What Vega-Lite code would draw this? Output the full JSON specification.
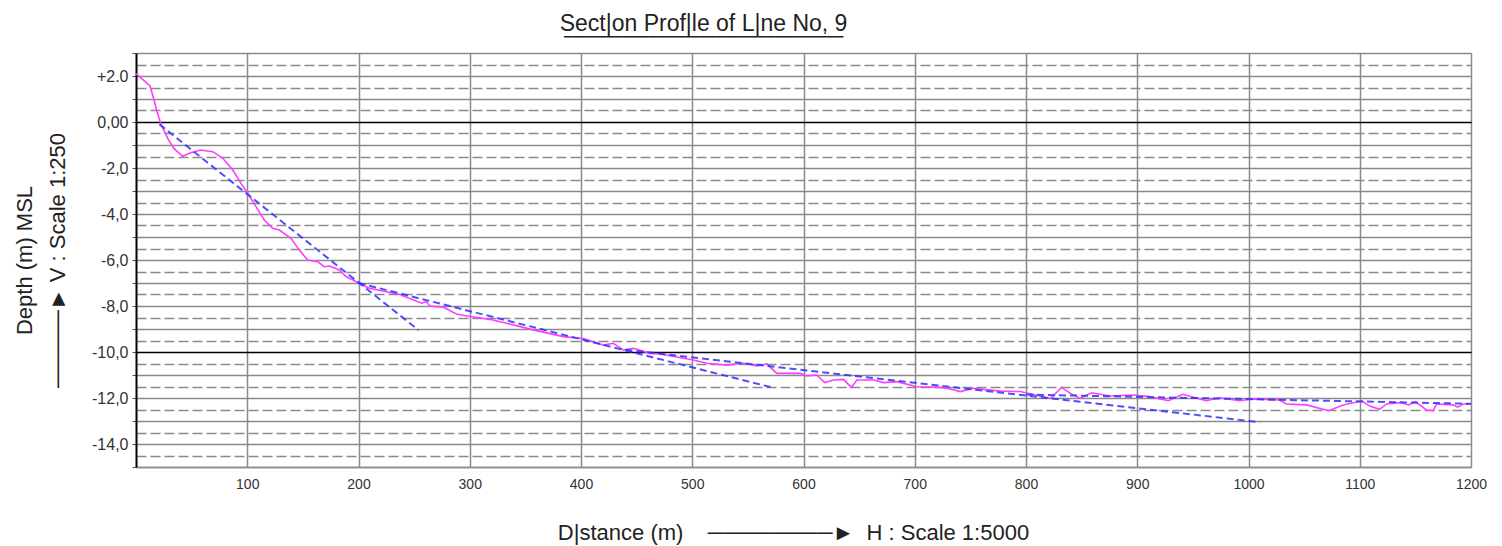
{
  "$schema": "https://vega.github.io/schema/vega-lite/v6.json",
  "autosize": "none",
  "width": 1335,
  "height": 414,
  "padding": {"left": 136, "top": 53, "right": 31, "bottom": 79},
  "background": "white",
  "config": {
    "font": "Liberation Sans",
    "view": {"stroke": null},
    "axis": {"labelFont": "Liberation Sans", "titleFont": "Liberation Sans", "labelColor": "#333", "titleColor": "#222", "titleFontWeight": "normal"}
  },
  "title": {
    "text": "Sect|on Prof|le of L|ne No, 9",
    "subtitle": "▔▔▔▔▔▔▔▔▔▔▔▔▔▔▔▔▔▔▔▔▔▔▔▔▔▔▔▔▔▔▔▔▔",
    "fontSize": 23,
    "fontWeight": "normal",
    "color": "#222",
    "subtitleColor": "#222",
    "subtitleFont": "DejaVu Sans",
    "subtitleFontSize": 11,
    "subtitlePadding": 1,
    "anchor": "middle",
    "dx": -100,
    "offset": 5
  },
  "datasets": {
    "profile": [
      {"d": 0, "z": 2.1}, {"d": 6, "z": 1.85}, {"d": 12.6, "z": 1.57}, {"d": 16, "z": 1.0}, {"d": 18.6, "z": 0.5},
      {"d": 22.5, "z": -0.1}, {"d": 28.5, "z": -0.71}, {"d": 34, "z": -1.15}, {"d": 42, "z": -1.49}, {"d": 48, "z": -1.36},
      {"d": 58, "z": -1.22}, {"d": 69, "z": -1.29}, {"d": 78, "z": -1.58}, {"d": 87, "z": -2.09}, {"d": 94.4, "z": -2.67},
      {"d": 100.4, "z": -3.1}, {"d": 107.9, "z": -3.68}, {"d": 115.3, "z": -4.26}, {"d": 122.8, "z": -4.62}, {"d": 128.8, "z": -4.7},
      {"d": 139.3, "z": -5.06}, {"d": 146.8, "z": -5.57}, {"d": 154.3, "z": -6.0}, {"d": 163.3, "z": -6.07}, {"d": 169.2, "z": -6.29},
      {"d": 173.8, "z": -6.26}, {"d": 182.8, "z": -6.43}, {"d": 188.8, "z": -6.72}, {"d": 200.7, "z": -7.01}, {"d": 209.7, "z": -7.23},
      {"d": 237, "z": -7.5}, {"d": 256.8, "z": -7.88}, {"d": 261, "z": -7.81}, {"d": 264, "z": -8.0}, {"d": 276, "z": -8.05},
      {"d": 288, "z": -8.35}, {"d": 300, "z": -8.46}, {"d": 318, "z": -8.58}, {"d": 333, "z": -8.75}, {"d": 360, "z": -9.07},
      {"d": 384, "z": -9.33}, {"d": 402, "z": -9.41}, {"d": 420, "z": -9.7}, {"d": 429, "z": -9.62}, {"d": 438, "z": -9.91},
      {"d": 447, "z": -9.84}, {"d": 462, "z": -10.06}, {"d": 471, "z": -10.09}, {"d": 501, "z": -10.35}, {"d": 513, "z": -10.49},
      {"d": 531, "z": -10.57}, {"d": 546, "z": -10.49}, {"d": 558, "z": -10.61}, {"d": 567, "z": -10.52}, {"d": 576, "z": -10.93},
      {"d": 597, "z": -10.93}, {"d": 603, "z": -11.04}, {"d": 612, "z": -11.0}, {"d": 619, "z": -11.33}, {"d": 627, "z": -11.22},
      {"d": 636, "z": -11.19}, {"d": 643, "z": -11.54}, {"d": 648, "z": -11.22}, {"d": 663, "z": -11.22}, {"d": 672, "z": -11.33},
      {"d": 684, "z": -11.29}, {"d": 702, "z": -11.51}, {"d": 723, "z": -11.54}, {"d": 729, "z": -11.58}, {"d": 741, "z": -11.72},
      {"d": 753, "z": -11.58}, {"d": 777, "z": -11.7}, {"d": 795, "z": -11.72}, {"d": 822, "z": -12.02}, {"d": 832, "z": -11.54},
      {"d": 840, "z": -11.8}, {"d": 848.5, "z": -12.02}, {"d": 859, "z": -11.77}, {"d": 875.5, "z": -11.91}, {"d": 896, "z": -11.87},
      {"d": 911, "z": -11.94}, {"d": 928, "z": -12.12}, {"d": 941, "z": -11.84}, {"d": 962, "z": -12.12}, {"d": 974, "z": -11.99},
      {"d": 992, "z": -12.12}, {"d": 1004, "z": -12.04}, {"d": 1028, "z": -12.09}, {"d": 1034, "z": -12.26}, {"d": 1052, "z": -12.3},
      {"d": 1072, "z": -12.55}, {"d": 1085, "z": -12.3}, {"d": 1102, "z": -12.13}, {"d": 1109, "z": -12.35}, {"d": 1118, "z": -12.49},
      {"d": 1124, "z": -12.26}, {"d": 1136, "z": -12.2}, {"d": 1144, "z": -12.3}, {"d": 1150, "z": -12.16}, {"d": 1160, "z": -12.52},
      {"d": 1166, "z": -12.55}, {"d": 1169, "z": -12.26}, {"d": 1184, "z": -12.3}, {"d": 1188, "z": -12.4}, {"d": 1193, "z": -12.26},
      {"d": 1200, "z": -12.26}
    ],
    "design": [
      {"seg": "A", "d": 21, "z": -0.1}, {"seg": "A", "d": 254, "z": -9.05},
      {"seg": "B", "d": 200, "z": -7.0}, {"seg": "B", "d": 574, "z": -11.57},
      {"seg": "C", "d": 440, "z": -9.9}, {"seg": "C", "d": 1010, "z": -13.05},
      {"seg": "D", "d": 800, "z": -11.85}, {"seg": "D", "d": 1200, "z": -12.25}
    ]
  },
  "encoding": {
    "x": {
      "field": "d", "type": "quantitative",
      "scale": {"domain": [0, 1200], "nice": false, "zero": false},
      "axis": {
        "values": [100, 200, 300, 400, 500, 600, 700, 800, 900, 1000, 1100, 1200],
        "format": "d",
        "grid": true, "gridColor": "#8a8a8a", "gridWidth": 1.5,
        "domainColor": "#8a8a8a", "domainWidth": 1.5,
        "ticks": false, "labelPadding": 10, "labelFontSize": 14, "labelFlush": false,
        "title": "D|stance (m)\u00a0\u00a0\u00a0\u00a0────────►\u00a0\u00a0H : Scale 1:5000",
        "titleFontSize": 22, "titlePadding": 31, "titleX": 657, "titleAlign": "center"
      }
    },
    "y": {
      "field": "z", "type": "quantitative",
      "scale": {"domain": [-15, 3], "nice": false, "zero": false},
      "axis": {
        "values": [3, 2.5, 2, 1.5, 1, 0.5, 0, -0.5, -1, -1.5, -2, -2.5, -3, -3.5, -4, -4.5, -5, -5.5, -6, -6.5, -7, -7.5, -8, -8.5, -9, -9.5, -10, -10.5, -11, -11.5, -12, -12.5, -13, -13.5, -14, -14.5, -15],
        "grid": true,
        "gridColor": {"condition": {"test": "datum.value == 0 || datum.value == -10", "value": "#000000"}, "value": "#8a8a8a"},
        "gridWidth": 1.5,
        "gridDash": {"condition": {"test": "datum.value % 1 != 0", "value": [10, 4]}, "value": []},
        "domainColor": "#000000", "domainWidth": 2,
        "tickSize": 4, "tickColor": "#555",
        "tickOpacity": {"condition": {"test": "datum.value % 1 != 0", "value": 0}, "value": 1},
        "labelExpr": "datum.value == 2 ? '+2.0' : datum.value == 0 ? '0,00' : (datum.value < 0 && datum.value % 2 == 0) ? '-' + replace(format(-datum.value, '.1f'), '.', ',') : ''",
        "labelFontSize": 16, "labelPadding": 4,
        "title": ["Depth (m) MSL", "─────►\u00a0V : Scale 1:250"],
        "titleFontSize": 22, "titleLineHeight": 33, "titlePadding": 22
      }
    }
  },
  "layer": [
    {
      "data": {"name": "profile"},
      "mark": {"type": "line", "color": "#ff3cff", "strokeWidth": 1.6}
    },
    {
      "data": {"name": "design"},
      "mark": {"type": "line", "color": "#3030ff", "strokeWidth": 2, "strokeDash": [7, 4], "opacity": 0.85},
      "encoding": {"detail": {"field": "seg"}}
    }
  ]
}
